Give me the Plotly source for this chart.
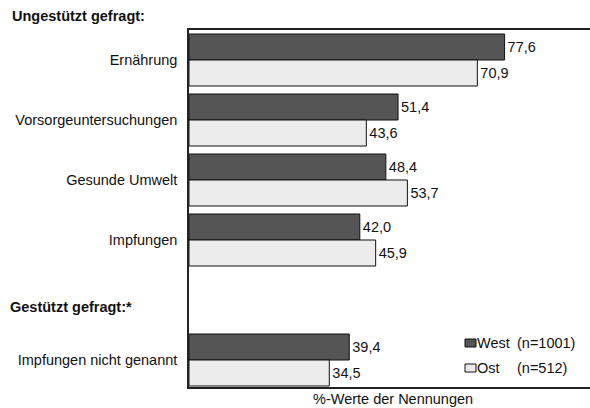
import plotly.graph_objects as go

# Survey items (upper block: unprompted, lower block: prompted)
categories = ["Ernährung", "Vorsorgeuntersuchungen", "Gesunde Umwelt", "Impfungen",
              "Impfungen nicht genannt"]
west = [77.6, 51.4, 48.4, 42.0, 39.4]
ost = [70.9, 43.6, 53.7, 45.9, 34.5]
west_name = "West"
west_n = "(n=1001)"
ost_name = "Ost"
ost_n = "(n=512)"

# row slots: the prompted item sits one empty row below the unprompted block
slots = [0, 1, 2, 3, 5]

FONT = "Liberation Sans, Arial, sans-serif"
FS = 14.5
INK = "#111111"
DARK = "#555555"
LIGHT = "#ececec"

fig = go.Figure()
fig.add_trace(go.Bar(
    y=slots, x=west, orientation="h", name=west_name,
    marker=dict(color=DARK, line=dict(color=INK, width=1)),
    texttemplate="%{x:.1f}", textposition="outside",
    textfont=dict(family=FONT, size=FS, color=INK),
    cliponaxis=False,
))
fig.add_trace(go.Bar(
    y=slots, x=ost, orientation="h", name=ost_name,
    marker=dict(color=LIGHT, line=dict(color=INK, width=1)),
    texttemplate="%{x:.1f}", textposition="outside",
    textfont=dict(family=FONT, size=FS, color=INK),
    cliponaxis=False,
))

fig.update_layout(
    width=590, height=408,
    margin=dict(l=189, r=0, t=30, b=21),
    paper_bgcolor="white", plot_bgcolor="white",
    barmode="group", bargap=0.133, bargroupgap=0,
    separators=",.",
    showlegend=False,
    font=dict(family=FONT, size=FS, color=INK),
    xaxis=dict(range=[0, 98.6], showgrid=False, zeroline=False,
               showticklabels=False, ticks="",
               showline=True, mirror=True, linecolor="#222222", linewidth=1.5),
    yaxis=dict(range=[5.45, -0.5], showgrid=False, zeroline=False,
               tickvals=slots, ticktext=categories, ticks="",
               ticklabelstandoff=7,
               tickfont=dict(family=FONT, size=FS, color=INK),
               showline=True, linecolor="#222222", linewidth=1.5),
)


def px_x(p):
    return (p - 189) / 401


def px_y(p):
    return 1 - (p - 30) / 357


# section headings
fig.add_annotation(text="<b>Ungestützt gefragt:</b>", xref="paper", yref="paper",
                   x=px_x(10), y=px_y(16), xanchor="left", yanchor="middle",
                   showarrow=False, font=dict(family=FONT, size=FS, color=INK))
fig.add_annotation(text="<b>Gestützt gefragt:*</b>", xref="paper", yref="paper",
                   x=px_x(8), y=px_y(307), xanchor="left", yanchor="middle",
                   showarrow=False, font=dict(family=FONT, size=FS, color=INK))

# axis caption
fig.add_annotation(text="%-Werte der Nennungen", xref="paper", yref="paper",
                   x=px_x(393), y=px_y(399), xanchor="center", yanchor="middle",
                   showarrow=False, font=dict(family=FONT, size=FS, color=INK))

# legend: swatches plus two text columns
for name, n, color, yc in [(west_name, west_n, DARK, 343), (ost_name, ost_n, LIGHT, 368)]:
    fig.add_shape(type="rect", xref="paper", yref="paper",
                  x0=px_x(465), x1=px_x(476), y0=px_y(yc - 4), y1=px_y(yc + 4),
                  fillcolor=color, line=dict(color=INK, width=1))
    fig.add_annotation(text=name, xref="paper", yref="paper", x=px_x(475), y=px_y(yc),
                       xanchor="left", yanchor="middle", showarrow=False,
                       font=dict(family=FONT, size=FS, color=INK))
    fig.add_annotation(text=n, xref="paper", yref="paper", x=px_x(515), y=px_y(yc),
                       xanchor="left", yanchor="middle", showarrow=False,
                       font=dict(family=FONT, size=FS, color=INK))

fig.write_html("out.html")
